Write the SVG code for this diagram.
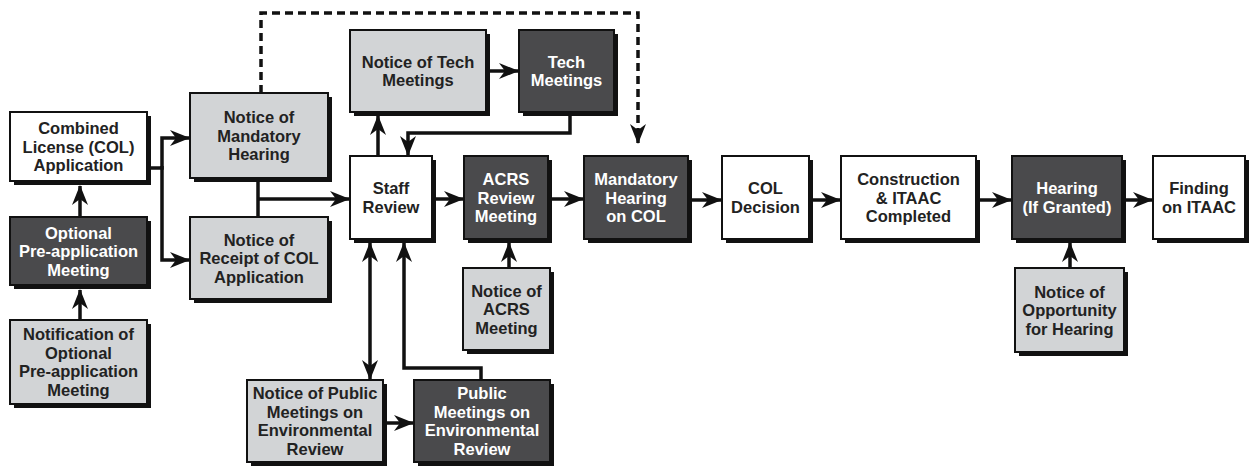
<svg xmlns="http://www.w3.org/2000/svg" width="1251" height="467" viewBox="0 0 1251 467">
<style>
.sh{fill:#111}
.bw{fill:#fff;stroke:#111;stroke-width:2}
.bl{fill:#d2d4d6;stroke:#111;stroke-width:2}
.bd{fill:#4a4a4c;stroke:#111;stroke-width:2}
text{font-family:"Liberation Sans",Arial,Helvetica,sans-serif;font-weight:bold;font-size:16.5px;text-anchor:middle}
.tk{fill:#222}
.tw{fill:#fff}
.c{fill:none;stroke:#111;stroke-width:3.5}
.d{fill:none;stroke:#111;stroke-width:3.5;stroke-dasharray:8 5}
</style>
<defs>
<marker id="ah" markerUnits="userSpaceOnUse" markerWidth="20" markerHeight="16" refX="19" refY="8" orient="auto-start-reverse" viewBox="0 0 20 16">
<path d="M0,0 L20,8 L0,16 L6,8 z" fill="#111"/>
</marker>
</defs>
<g id="connectors">
<path class="d" d="M261,93 V13 H638 V141"/>
<path class="c" d="M638,138 V143" marker-end="url(#ah)"/>
<path class="c" d="M80,320 V290" marker-end="url(#ah)"/>
<path class="c" d="M80,217 V186" marker-end="url(#ah)"/>
<path class="c" d="M147,168 H162 V138 H189" marker-end="url(#ah)"/>
<path class="c" d="M162,166 V260 H189" marker-end="url(#ah)"/>
<path class="c" d="M258,180 V217"/>
<path class="c" d="M258,199 H349" marker-end="url(#ah)"/>
<path class="c" d="M378,156 V116" marker-end="url(#ah)"/>
<path class="c" d="M490,71 H518" marker-end="url(#ah)"/>
<path class="c" d="M570,116 V133 H408 V155" marker-end="url(#ah)"/>
<path class="c" d="M435,199 H463" marker-end="url(#ah)"/>
<path class="c" d="M552,199 H583" marker-end="url(#ah)"/>
<path class="c" d="M692,200 H721" marker-end="url(#ah)"/>
<path class="c" d="M813,200 H840" marker-end="url(#ah)"/>
<path class="c" d="M980,200 H1011" marker-end="url(#ah)"/>
<path class="c" d="M1126,200 H1152" marker-end="url(#ah)"/>
<path class="c" d="M1070,268 V243" marker-end="url(#ah)"/>
<path class="c" d="M509,268 V243" marker-end="url(#ah)"/>
<path class="c" d="M370,243 V379" marker-start="url(#ah)" marker-end="url(#ah)"/>
<path class="c" d="M481,380 V368 H404 V243" marker-end="url(#ah)"/>
<path class="c" d="M387,423 H413" marker-end="url(#ah)"/>
</g>
<g id="combined">
<rect class="sh" x="14" y="116" width="137" height="69"/>
<rect class="bw" x="10" y="112" width="137" height="69"/>
<text class="tk" x="78.5" y="134">Combined<tspan x="78.5" dy="18.5">License (COL)</tspan><tspan x="78.5" dy="18.5">Application</tspan></text>
</g>
<g id="optional">
<rect class="sh" x="14" y="221" width="137" height="68"/>
<rect class="bd" x="10" y="217" width="137" height="68"/>
<text class="tw" x="78.5" y="238.5">Optional<tspan x="78.5" dy="18.5">Pre-application</tspan><tspan x="78.5" dy="18.5">Meeting</tspan></text>
</g>
<g id="notification">
<rect class="sh" x="14" y="324" width="137" height="84"/>
<rect class="bl" x="10" y="320" width="137" height="84"/>
<text class="tk" x="78.5" y="340.25">Notification of<tspan x="78.5" dy="18.5">Optional</tspan><tspan x="78.5" dy="18.5">Pre-application</tspan><tspan x="78.5" dy="18.5">Meeting</tspan></text>
</g>
<g id="notice-mandatory">
<rect class="sh" x="194" y="97" width="138" height="85"/>
<rect class="bl" x="190" y="93" width="138" height="85"/>
<text class="tk" x="259" y="123">Notice of<tspan x="259" dy="18.5">Mandatory</tspan><tspan x="259" dy="18.5">Hearing</tspan></text>
</g>
<g id="notice-receipt">
<rect class="sh" x="194" y="221" width="138" height="82"/>
<rect class="bl" x="190" y="217" width="138" height="82"/>
<text class="tk" x="259" y="245.5">Notice of<tspan x="259" dy="18.5">Receipt of COL</tspan><tspan x="259" dy="18.5">Application</tspan></text>
</g>
<g id="staff">
<rect class="sh" x="354" y="160" width="82" height="83"/>
<rect class="bw" x="350" y="156" width="82" height="83"/>
<text class="tk" x="391" y="194.25">Staff<tspan x="391" dy="18.5">Review</tspan></text>
</g>
<g id="notice-tech">
<rect class="sh" x="354" y="34" width="136" height="82"/>
<rect class="bl" x="350" y="30" width="136" height="82"/>
<text class="tk" x="418" y="67.75">Notice of Tech<tspan x="418" dy="18.5">Meetings</tspan></text>
</g>
<g id="tech">
<rect class="sh" x="523" y="34" width="95" height="82"/>
<rect class="bd" x="519" y="30" width="95" height="82"/>
<text class="tw" x="566.5" y="67.75">Tech<tspan x="566.5" dy="18.5">Meetings</tspan></text>
</g>
<g id="acrs">
<rect class="sh" x="468" y="160" width="84" height="83"/>
<rect class="bd" x="464" y="156" width="84" height="83"/>
<text class="tw" x="506" y="185">ACRS<tspan x="506" dy="18.5">Review</tspan><tspan x="506" dy="18.5">Meeting</tspan></text>
</g>
<g id="mandatory-hearing">
<rect class="sh" x="588" y="160" width="104" height="83"/>
<rect class="bd" x="584" y="156" width="104" height="83"/>
<text class="tw" x="636" y="185">Mandatory<tspan x="636" dy="18.5">Hearing</tspan><tspan x="636" dy="18.5">on COL</tspan></text>
</g>
<g id="col-decision">
<rect class="sh" x="726" y="160" width="87" height="83"/>
<rect class="bw" x="722" y="156" width="87" height="83"/>
<text class="tk" x="765.5" y="194.25">COL<tspan x="765.5" dy="18.5">Decision</tspan></text>
</g>
<g id="construction">
<rect class="sh" x="845" y="160" width="135" height="83"/>
<rect class="bw" x="841" y="156" width="135" height="83"/>
<text class="tk" x="908.5" y="185">Construction<tspan x="908.5" dy="18.5">&amp; ITAAC</tspan><tspan x="908.5" dy="18.5">Completed</tspan></text>
</g>
<g id="hearing">
<rect class="sh" x="1016" y="160" width="110" height="83"/>
<rect class="bd" x="1012" y="156" width="110" height="83"/>
<text class="tw" x="1067" y="194.25">Hearing<tspan x="1067" dy="18.5">(If Granted)</tspan></text>
</g>
<g id="finding">
<rect class="sh" x="1157" y="160" width="92" height="83"/>
<rect class="bw" x="1153" y="156" width="92" height="83"/>
<text class="tk" x="1199" y="194.25">Finding<tspan x="1199" dy="18.5">on ITAAC</tspan></text>
</g>
<g id="notice-opportunity">
<rect class="sh" x="1019" y="272" width="109" height="84"/>
<rect class="bl" x="1015" y="268" width="109" height="84"/>
<text class="tk" x="1069.5" y="297.5">Notice of<tspan x="1069.5" dy="18.5">Opportunity</tspan><tspan x="1069.5" dy="18.5">for Hearing</tspan></text>
</g>
<g id="notice-acrs">
<rect class="sh" x="467" y="272" width="87" height="82"/>
<rect class="bl" x="463" y="268" width="87" height="82"/>
<text class="tk" x="506.5" y="296.5">Notice of<tspan x="506.5" dy="18.5">ACRS</tspan><tspan x="506.5" dy="18.5">Meeting</tspan></text>
</g>
<g id="notice-public">
<rect class="sh" x="251" y="384" width="136" height="82"/>
<rect class="bl" x="247" y="380" width="136" height="82"/>
<text class="tk" x="315" y="399.25">Notice of Public<tspan x="315" dy="18.5">Meetings on</tspan><tspan x="315" dy="18.5">Environmental</tspan><tspan x="315" dy="18.5">Review</tspan></text>
</g>
<g id="public-meetings">
<rect class="sh" x="418" y="384" width="136" height="82"/>
<rect class="bd" x="414" y="380" width="136" height="82"/>
<text class="tw" x="482" y="399.25">Public<tspan x="482" dy="18.5">Meetings on</tspan><tspan x="482" dy="18.5">Environmental</tspan><tspan x="482" dy="18.5">Review</tspan></text>
</g>
</svg>
